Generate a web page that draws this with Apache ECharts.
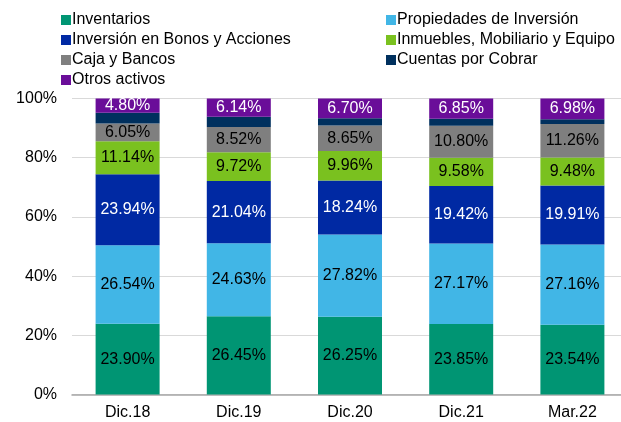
<!DOCTYPE html>
<html>
<head>
<meta charset="utf-8">
<script src="https://cdn.jsdelivr.net/npm/echarts@6/dist/echarts.min.js"></script>
<style>
  html, body { margin: 0; padding: 0; background: #fff; }
  #chart { width: 621px; height: 422px; }
</style>
</head>
<body>
<div id="chart"></div>
<script>
var categories = ['Dic.18', 'Dic.19', 'Dic.20', 'Dic.21', 'Mar.22']
var inventarios = [23.90, 26.45, 26.25, 23.85, 23.54]
var propiedades = [26.54, 24.63, 27.82, 27.17, 27.16]
var bonosAcciones = [23.94, 21.04, 18.24, 19.42, 19.91]
var inmuebles = [11.14, 9.72, 9.96, 9.58, 9.48]
var cajaBancos = [6.05, 8.52, 8.65, 10.80, 11.26]
var cuentasCobrar = [3.63, 3.50, 2.38, 2.33, 1.67]
var otrosActivos = [4.80, 6.14, 6.70, 6.85, 6.98]
var yTicks = [0, 20, 40, 60, 80, 100]

var font = 'Liberation Sans, Arial, sans-serif'

function mk(name, data, color, labelColor) {
  return {
    name: name,
    type: 'bar',
    stack: 'total',
    barWidth: 64,
    data: data,
    itemStyle: { color: color },
    label: {
      show: labelColor !== null,
      position: 'inside',
      color: labelColor || '#000',
      fontFamily: font,
      fontSize: 16,
      formatter: function (p) { return p.value.toFixed(2) + '%' }
    },
    emphasis: { disabled: true }
  }
}

var chart = echarts.init(document.getElementById('chart'))
var option = {
  animation: false,
  backgroundColor: '#fff',
  legend: [
    {
      orient: 'vertical',
      left: 56,
      top: 7,
      itemWidth: 10,
      itemHeight: 10,
      itemGap: 4,
      icon: 'rect',
      textStyle: { fontFamily: font, fontSize: 16, color: '#000', lineHeight: 16, padding: [0, 0, 0, -4] },
      data: ['Inventarios', 'Inversión en Bonos y Acciones', 'Caja y Bancos', 'Otros activos']
    },
    {
      orient: 'vertical',
      left: 381,
      top: 7,
      itemWidth: 10,
      itemHeight: 10,
      itemGap: 4,
      icon: 'rect',
      textStyle: { fontFamily: font, fontSize: 16, color: '#000', lineHeight: 16, padding: [0, 0, 0, -4] },
      data: ['Propiedades de Inversión', 'Inmuebles, Mobiliario y Equipo', 'Cuentas por Cobrar']
    }
  ],
  grid: {
    left: 72,
    right: -7,
    top: 98.5,
    bottom: 27.5,
    outerBoundsMode: 'none',
    containLabel: false
  },
  xAxis: {
    type: 'category',
    data: categories,
    axisTick: { show: false },
    axisLine: { lineStyle: { color: '#A6A6A6', width: 1.5 } },
    axisLabel: { fontFamily: font, fontSize: 16, color: '#000', margin: 10 }
  },
  yAxis: {
    type: 'value',
    min: yTicks[0],
    max: yTicks[yTicks.length - 1],
    interval: 20,
    axisLine: { show: false },
    axisTick: { show: false },
    splitLine: { lineStyle: { color: '#D9D9D9', width: 1 } },
    axisLabel: { fontFamily: font, fontSize: 16, color: '#000', margin: 15, formatter: '{value}%' }
  },
  series: [
    mk('Inventarios', inventarios, '#009573', '#000'),
    mk('Propiedades de Inversión', propiedades, '#41B6E6', '#000'),
    mk('Inversión en Bonos y Acciones', bonosAcciones, '#0029A3', '#fff'),
    mk('Inmuebles, Mobiliario y Equipo', inmuebles, '#7AC11F', '#000'),
    mk('Caja y Bancos', cajaBancos, '#7F7F7F', '#000'),
    mk('Cuentas por Cobrar', cuentasCobrar, '#00305E', null),
    mk('Otros activos', otrosActivos, '#6A0D99', '#fff')
  ]
}
chart.setOption(option)
</script>
</body>
</html>
